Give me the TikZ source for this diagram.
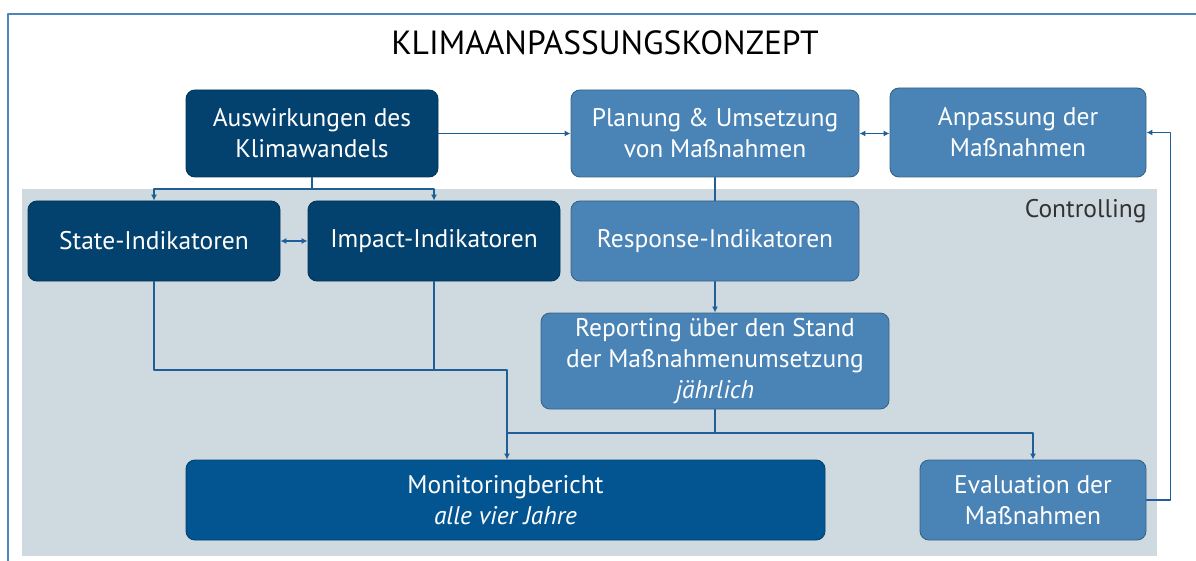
\documentclass[tikz,border=0pt]{standalone}
\usepackage{fontspec}
\setmainfont{PT Sans}
\usetikzlibrary{arrows.meta}

\definecolor{boxdark}{HTML}{03426F}
\definecolor{boxmon}{HTML}{035592}
\definecolor{boxmid}{HTML}{4A84B6}
\definecolor{ctrlgray}{HTML}{CFDAE0}
\definecolor{linecol}{HTML}{1F5F99}
\definecolor{framecol}{HTML}{4A86B8}

\tikzset{
  box/.style={rectangle, rounded corners=9pt, align=center, text=white, line width=0.9pt,
    font=\fontsize{25.5}{31}\selectfont, inner sep=2pt},
  darkbox/.style={box, fill=boxdark, draw=boxdark!80!black},
  monbox/.style={box, fill=boxmon, draw=boxmon!75!black},
  midbox/.style={box, fill=boxmid, draw=boxmid!75!black},
  conn/.style={draw=linecol, line width=1.2pt, -{Latex[length=6pt,width=6pt]}},
  biconn/.style={draw=linecol, line width=1.2pt, {Latex[length=6pt,width=6pt]}-{Latex[length=6pt,width=6pt]}},
  plain/.style={draw=linecol, line width=1.2pt},
}

\begin{document}
\begin{tikzpicture}[x=1pt, y=-1pt, line cap=round, line join=round]

  %% ════ frame + controlling area ════
  \fill[ctrlgray] (22,189) rectangle (1157,556);
  \draw[framecol, line width=1.6pt] (8,561) -- (8,14) -- (1196,14);

  \node[font=\fontsize{33.5}{40}\selectfont] (title) at (605,43) {KLIMAANPASSUNGSKONZEPT};
  \node[anchor=east, text=black!80, font=\fontsize{25.5}{30}\selectfont] (ctrl) at (1150,211) {Controlling};

  %% ════ boxes ════
  \node[darkbox, minimum width=252pt, minimum height=87pt] (ausw) at (312,133.5) {Auswirkungen des\\Klimawandels};
  \node[midbox, minimum width=288pt, minimum height=87pt] (plan) at (715,133.5) {Planung \& Umsetzung\\von Maßnahmen};
  \node[midbox, minimum width=256pt, minimum height=89pt] (anp) at (1018,132.5) {Anpassung der\\Maßnahmen};

  \node[darkbox, minimum width=252pt, minimum height=80pt] (state) at (154,241) {State-Indikatoren};
  \node[darkbox, minimum width=252pt, minimum height=80pt] (impact) at (434,241) {Impact-Indikatoren};
  \node[midbox, minimum width=288pt, minimum height=80pt] (resp) at (715,241) {Response-Indikatoren};

  \node[midbox, minimum width=348pt, minimum height=96pt] (rep) at (715,361) {Reporting über den Stand\\der Maßnahmenumsetzung\\\textit{jährlich}};

  \node[monbox, minimum width=639pt, minimum height=80pt] (mon) at (505.5,500) {Monitoringbericht\\\textit{alle vier Jahre}};
  \node[midbox, minimum width=226pt, minimum height=80pt] (eval) at (1033,500) {Evaluation der\\Maßnahmen};

  %% ════ connectors ════
  \coordinate (split) at (312,189);
  \coordinate (join) at (507,370);
  \coordinate (fork) at (715,433);

  \draw[conn] (ausw.east) -- (plan.west|-ausw.east);
  \draw[biconn] (plan.east) -- (anp.west|-plan.east);

  \draw[plain] (ausw.south) -- (split);
  \draw[conn] (split) -| (state.north);
  \draw[conn] (split) -| (impact.north);
  \draw[biconn] (state) -- (impact);

  \draw[plain] (plan) -- (resp);
  \draw[conn] (resp) -- (rep);

  \draw[plain] (state.south) |- (join);
  \draw[plain] (impact.south) -- (impact.south|-join);
  \draw[conn] (join) -- (mon.north-|join);

  \draw[plain] (rep.south) -- (fork);
  \draw[plain] (fork) -- (join|-fork);
  \draw[conn] (fork) -| (eval.north);

  \draw[conn] (eval.east) -- ++(24,0) |- (anp.east);

  % canvas size fixed
  \pgfresetboundingbox
  \path[use as bounding box] (0,0) rectangle (1196,561);
\end{tikzpicture}
\end{document}
